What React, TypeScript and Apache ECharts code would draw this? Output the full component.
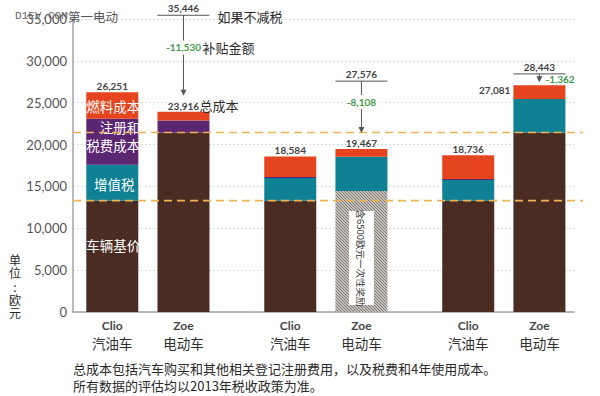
import React, { useEffect, useRef } from 'react';
import * as echarts from 'echarts';

// ---- data ----
const E = '-';
const modelNames = ['Clio', '', 'Zoe', '', '', 'Clio', '', 'Zoe', '', '', 'Clio', '', 'Zoe'];
const fuelTypes = ['汽油车', '', '电动车', '', '', '汽油车', '', '电动车', '', '', '汽油车', '', '电动车'];

const CLIO_BASE = 13300;
const ZOE_BASE = 21450;
const basePrice: any[] = [13300, E, 21450, E, E, 13300, E, E, E, E, 13300, E, 21450];
const bonusBase: any[] = [E, E, E, E, E, E, E, 14450, E, E, E, E, E];
const vat: any[] = [4290, E, E, E, E, 2700, E, 4110, E, E, 2470, E, 4000];
const regTax: any[] = [5500, E, 1430, E, E, 120, E, E, E, E, 120, E, E];
const fuelCost: any[] = [3161, E, 1036, E, E, 2464, E, 907, E, E, 2846, E, 1631];
const totals: any[] = [26251, E, 23916, E, E, 18584, E, 19467, E, E, 18736, E, 27081];
const noTaxCost: any[] = [E, E, 35446, E, E, E, E, 27576, E, E, E, E, 28443];
const subsidy: any[] = [E, E, -11530, E, E, E, E, -8108, E, E, E, E, -1362];

const Y_MAX = 35000;
const Y_STEP = 5000;

const segLabels = { base: '车辆基价', vat: '增值税', reg: '\u3000注册和\n税费成本', fuel: '燃料成本' };
const bonusNote = '含6500欧元一次性奖励';
const footer1 = '总成本包括汽车购买和其他相关登记注册费用，以及税费和4年使用成本。';
const footer2 = '所有数据的评估均以2013年税收政策为准。';

// ---- style ----
const CJK = '"Noto Sans CJK SC", sans-serif';
const NUM = 'Lato, "Noto Sans", sans-serif';
const C = {
  base: '#4A2C23',
  vat: '#0E8195',
  reg: '#5B2672',
  fuel: '#E6441E',
  dash: '#EEB452',
  green: '#3F9A47',
  axis: '#A0A5AA',
  text: '#2a2a2a',
  num: '#444',
};

const fmt = (v: number) => v.toLocaleString('en-US');

function makeHatch() {
  const c = document.createElement('canvas');
  c.width = 3;
  c.height = 3;
  const g = c.getContext('2d')!;
  g.fillStyle = '#c4c0bc';
  g.fillRect(0, 0, 3, 3);
  g.fillStyle = '#7f7975';
  for (let i = 0; i < 3; i++) {
    g.fillRect(i, i, 1, 1);
  }
  return c;
}

const inLabel = (text: string, offset: number[], extra: any = {}) => ({
  show: true,
  position: 'inside',
  formatter: text,
  color: '#fff',
  fontSize: 13.5,
  fontFamily: CJK,
  offset,
  ...extra,
});

export default function App() {
  const ref = useRef<HTMLDivElement>(null);
  useEffect(() => {
    const el = ref.current!;
    const chart = echarts.init(el, null, { renderer: 'svg' });
    const BAR_W = 52;
    const gridTop = 19;
    const gridH = 293;

    const withLabel = (arr: any[], lbl: any) =>
      arr.map((v, i) => (i === 0 && v !== E ? { value: v, label: lbl } : v));

    const totalData = totals.map((t, i) =>
      t === E ? E : i === 12 ? { value: 0, label: { position: 'left', distance: 3, offset: [0, 5] } } : 0
    );

    const barBase = {
      type: 'bar',
      xAxisIndex: 1,
      yAxisIndex: 1,
      stack: 'total',
      barWidth: BAR_W,
      clip: false,
    };

    const option: any = {
      animation: false,
      backgroundColor: '#fff',
      grid: [
        { left: 73, right: 26, top: gridTop, height: gridH, containLabel: false, outerBoundsMode: 'none' },
        { left: 94.5, right: 42.8, top: gridTop, height: gridH, containLabel: false, outerBoundsMode: 'none' },
      ],
      xAxis: [
        {
          gridIndex: 0,
          type: 'value',
          min: 0,
          max: 1,
          axisLine: { show: true, lineStyle: { color: C.axis, width: 1.5 } },
          axisTick: { show: false },
          axisLabel: { show: false },
          splitLine: { show: false },
        },
        {
          gridIndex: 1,
          type: 'category',
          data: modelNames.map((n, i) => n + i),
          axisLine: { show: false },
          axisTick: { show: false },
          axisLabel: {
            interval: 0,
            margin: 6,
            formatter: (_v: string, i: number) =>
              modelNames[i] ? `{m|${modelNames[i]}}\n{t|${fuelTypes[i]}}` : '',
            rich: {
              m: { fontFamily: NUM, fontWeight: 'bold', fontSize: 12, color: '#474747', lineHeight: 15 },
              t: { fontFamily: CJK, fontSize: 13.5, color: '#2f2f2f', lineHeight: 19 },
            },
          },
        },
      ],
      yAxis: [
        {
          gridIndex: 0,
          type: 'value',
          min: 0,
          max: Y_MAX,
          interval: Y_STEP,
          axisLine: { show: true, lineStyle: { color: C.axis, width: 1.5 } },
          axisTick: { show: false },
          axisLabel: {
            margin: 6,
            color: '#555',
            fontSize: 13,
            fontFamily: NUM,
            formatter: (v: number) => fmt(v),
          },
          splitLine: { show: true, lineStyle: { color: '#cfcfcf', width: 1, type: [1.5, 2.5] } },
        },
        { gridIndex: 1, type: 'value', min: 0, max: Y_MAX, show: false, splitLine: { show: false } },
      ],
      series: [
        {
          ...barBase,
          name: '车辆基价',
          itemStyle: { color: C.base },
          data: withLabel(basePrice, inLabel(segLabels.base, [1, -11])),
        },
        {
          ...barBase,
          name: '奖励',
          itemStyle: {
            color: { image: makeHatch(), repeat: 'repeat', imageWidth: 3, imageHeight: 3 },
          },
          data: bonusBase,
        },
        {
          ...barBase,
          name: '增值税',
          itemStyle: { color: C.vat },
          data: withLabel(vat, inLabel(segLabels.vat, [2, 1])),
        },
        {
          ...barBase,
          name: '注册和税费成本',
          itemStyle: { color: C.reg },
          data: withLabel(regTax, inLabel(segLabels.reg, [1, -6], { lineHeight: 18 })),
        },
        {
          ...barBase,
          name: '燃料成本',
          itemStyle: { color: C.fuel },
          data: withLabel(fuelCost, inLabel(segLabels.fuel, [1, 1])),
        },
        {
          ...barBase,
          name: '总成本',
          silent: true,
          itemStyle: { color: 'rgba(0,0,0,0)' },
          label: {
            show: true,
            position: 'top',
            distance: 1,
            fontSize: 10,
            fontWeight: 'bold',
            fontFamily: NUM,
            color: C.num,
            formatter: (p: any) => fmt(totals[p.dataIndex]),
          },
          data: totalData,
        },
      ],
    };
    chart.setOption(option);

    const px = (gi: number, x: number, y: number) =>
      chart.convertToPixel({ gridIndex: gi } as any, [x, y]) as number[];

    const g: any[] = [];
    const Z = 100;
    const txt = (x: number, y: number, text: string, s: any) =>
      g.push({ type: 'text', x, y, z: Z, style: { text, ...s } });
    const line = (x1: number, y1: number, x2: number, y2: number, s: any) =>
      g.push({ type: 'line', z: Z, shape: { x1, y1, x2, y2 }, style: s });

    // dashed reference lines at the base prices
    [CLIO_BASE, ZOE_BASE].forEach((v) => {
      const a = px(0, 0, v);
      const b = px(0, 1, v);
      line(a[0], a[1], b[0] + 9, b[1], { stroke: C.dash, lineWidth: 1.6, lineDash: [8, 5] });
    });

    // subsidy annotations
    noTaxCost.forEach((v, i) => {
      if (v === E) return;
      const [cx, lineY] = px(1, i, v);
      const topY = px(1, i, totals[i])[1];
      const half = BAR_W / 2;
      line(cx - half, lineY, cx + half, lineY, { stroke: '#555', lineWidth: 1 });
      txt(cx, lineY - 2, fmt(v), {
        fontSize: 10, fontWeight: 'bold', fontFamily: NUM, fill: C.num, align: 'center', verticalAlign: 'bottom',
      });
      const short = i === 12;
      const tip = short ? topY - 3 : topY - 16;
      line(cx, lineY, cx, tip - 4, { stroke: '#555', lineWidth: 1 });
      g.push({
        type: 'polygon', z: Z,
        shape: { points: [[cx - 3, tip - 6], [cx + 3, tip - 6], [cx, tip]] },
        style: { fill: '#555' },
      });
      if (short) {
        txt(cx + 6, (lineY + tip) / 2 + 1, fmt(subsidy[i]), {
          fontSize: 10, fontWeight: 'bold', fontFamily: NUM, fill: C.green, align: 'left', verticalAlign: 'middle',
        });
      } else {
        const sy = lineY + (tip - lineY) * 0.4;
        txt(cx, sy, fmt(subsidy[i]), {
          fontSize: 10, fontWeight: 'bold', fontFamily: NUM, fill: C.green, align: 'center', verticalAlign: 'middle',
          backgroundColor: '#fff', padding: [2, 2],
        });
        if (i === 2) {
          txt(cx + 19, sy, '补贴金额', { fontSize: 13, fontFamily: CJK, fill: C.text, align: 'left', verticalAlign: 'middle' });
          txt(cx + 34, lineY + 1, '如果不减税', { fontSize: 13, fontFamily: CJK, fill: C.text, align: 'left', verticalAlign: 'middle' });
          txt(cx + 16, topY - 6, '总成本', { fontSize: 13, fontFamily: CJK, fill: C.text, align: 'left', verticalAlign: 'middle' });
        }
      }
    });

    // note box inside the hatched bar
    bonusBase.forEach((v, i) => {
      if (v === E) return;
      const [cx, topY] = px(1, i, v);
      const baseY = px(1, i, 0)[1];
      const y1 = topY + 20;
      const y2 = baseY - 7;
      g.push({ type: 'rect', z: Z, shape: { x: cx - 12.5, y: y1, width: 25, height: y2 - y1 }, style: { fill: '#fff' } });
      g.push({
        type: 'text', z: Z + 1, x: cx, y: (y1 + y2) / 2, rotation: -Math.PI / 2,
        style: { text: bonusNote, fontSize: 9.5, fontFamily: CJK, fill: '#333', align: 'center', verticalAlign: 'middle' },
      });
    });

    // y axis title
    txt(15, 286, '单\n位\n:\n欧\n元', {
      fontSize: 12, fontFamily: CJK, fill: C.text, align: 'center', verticalAlign: 'middle', lineHeight: 13.2,
    });

    // watermark
    txt(15, 16, 'D1EV.COM', { fontSize: 11, fontFamily: '"Liberation Mono", monospace', fill: '#666', align: 'left', verticalAlign: 'middle' });
    txt(68, 16, '第一电动', { fontSize: 12.5, fontFamily: CJK, fill: '#555', align: 'left', verticalAlign: 'middle' });

    // footer
    txt(73, 368, footer1, { fontSize: 13, fontFamily: CJK, fill: C.text, align: 'left', verticalAlign: 'middle' });
    txt(73, 385, footer2, { fontSize: 13, fontFamily: CJK, fill: C.text, align: 'left', verticalAlign: 'middle' });

    chart.setOption({ graphic: g });
    return () => chart.dispose();
  }, []);
  return <div ref={ref} style={{ position: 'absolute', left: 0, top: 0, width: 600, height: 396 }} />;
}
